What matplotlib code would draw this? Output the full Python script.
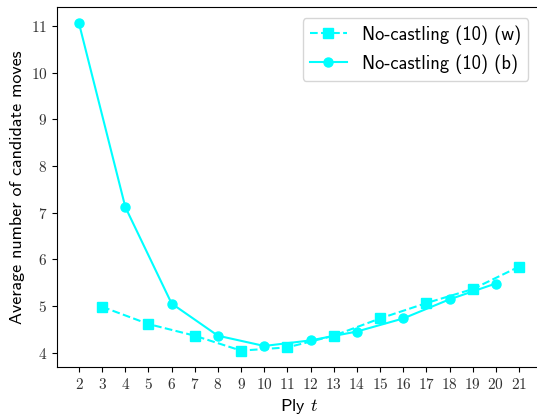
import matplotlib
matplotlib.use("Agg")
import matplotlib.pyplot as plt
from matplotlib.ticker import FuncFormatter

plt.rcParams['mathtext.fontset'] = 'cm'
plt.rcParams['axes.unicode_minus'] = False

ply_w = [3, 5, 7, 9, 11, 13, 15, 17, 19, 21]
moves_w = [4.98, 4.61, 4.36, 4.04, 4.11, 4.36, 4.73, 5.06, 5.36, 5.84]
ply_b = [2, 4, 6, 8, 10, 12, 14, 16, 18, 20]
moves_b = [11.06, 7.12, 5.05, 4.36, 4.14, 4.26, 4.45, 4.73, 5.14, 5.48]
label_w = "No-castling (10) (w)"
label_b = "No-castling (10) (b)"
xticks = list(range(2, 22))
yticks = list(range(4, 12))

fig = plt.figure(figsize=(5.37, 4.17), dpi=100)
ax = fig.add_axes([57/537, 50/417, (541-57)/537, (367-7)/417])

color = '#00FFFF'
ax.plot(ply_w, moves_w, linestyle='--', marker='s', color=color, lw=1.5, ms=6.5, label=label_w)
ax.plot(ply_b, moves_b, linestyle='-', marker='o', color=color, lw=1.5, ms=6.5, label=label_b)

ax.set_xticks(xticks)
ax.set_yticks(yticks)
fmt = FuncFormatter(lambda v, p: r'$%d$' % v)
ax.xaxis.set_major_formatter(fmt)
ax.yaxis.set_major_formatter(fmt)
ax.tick_params(labelsize=11, labelcolor='#333333')

ax.set_xlabel(r'Ply $t$', fontsize=13, family='cmss10')
ax.set_ylabel('Average number of candidate moves', fontsize=13, family='cmss10')

leg = ax.legend(loc='upper right', prop={'family': 'cmss10', 'size': 13.3},
                bbox_to_anchor=(533/541, 0.985), borderaxespad=0.3,
                handlelength=2.0, labelspacing=0.5)

fig.savefig('out.png', dpi=100)
